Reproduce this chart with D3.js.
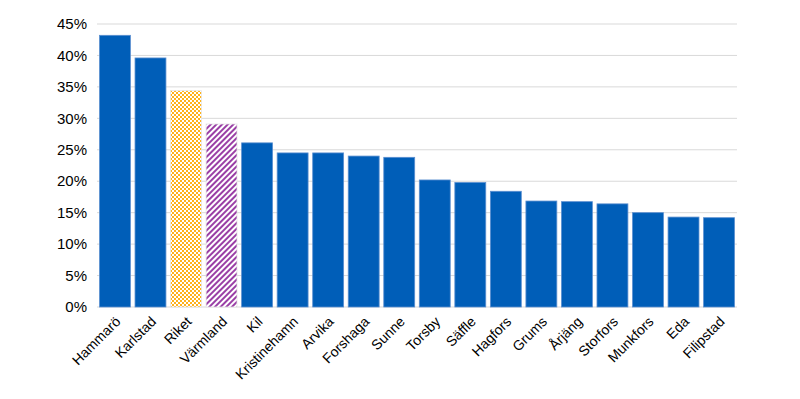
<!DOCTYPE html>
<html>
<head>
<meta charset="utf-8">
<script src="https://cdn.jsdelivr.net/npm/d3@7"></script>
<style>
  body { margin: 0; background: #fff; }
  text { font-family: "Liberation Sans", Arial, sans-serif; fill: #000; }
</style>
</head>
<body>
<svg id="chart"></svg>
<script>
const width = 800;
const height = 399;

// data
const kommuner = ["Hammarö", "Karlstad", "Riket", "Värmland", "Kil", "Kristinehamn", "Arvika", "Forshaga", "Sunne",
    "Torsby", "Säffle", "Hagfors", "Grums", "Årjäng", "Storfors", "Munkfors", "Eda", "Filipstad"];
const andel = [43.2, 39.6, 34.4, 29.1, 26.1, 24.5, 24.5, 24.0, 23.8,
    20.2, 19.8, 18.4, 16.85, 16.75, 16.4, 15.0, 14.3, 14.2];
const yTicks = [0, 5, 10, 15, 20, 25, 30, 35, 40, 45];

const margin = { top: 24, right: 63, bottom: 92, left: 97 };

const svg = d3.select("#chart").attr("width", width).attr("height", height);

// patterns for Riket and Värmland
const defs = svg.append("defs");
const checker = defs.append("pattern")
    .attr("id", "checker")
    .attr("width", 4).attr("height", 4)
    .attr("patternUnits", "userSpaceOnUse");
checker.append("rect").attr("width", 4).attr("height", 4).attr("fill", "#fff");
checker.append("rect").attr("width", 2).attr("height", 2).attr("fill", "#ffb21a");
checker.append("rect").attr("x", 2).attr("y", 2).attr("width", 2).attr("height", 2).attr("fill", "#ffb21a");

const stripes = defs.append("pattern")
    .attr("id", "stripes")
    .attr("width", 4).attr("height", 4)
    .attr("patternUnits", "userSpaceOnUse")
    .attr("patternTransform", "rotate(45)");
stripes.append("rect").attr("width", 4).attr("height", 4).attr("fill", "#fff");
stripes.append("rect").attr("width", 2).attr("height", 4).attr("fill", "#9a3fa6");

const x = d3.scaleBand()
    .domain(kommuner)
    .range([margin.left, width - margin.right])
    .paddingInner(0.13)
    .paddingOuter(0.07);

const y = d3.scaleLinear()
    .domain([0, 45])
    .range([height - margin.bottom, margin.top]);

// gridlines
svg.append("g")
    .selectAll("line")
    .data(yTicks)
    .join("line")
    .attr("x1", margin.left)
    .attr("x2", width - margin.right)
    .attr("y1", d => y(d))
    .attr("y2", d => y(d))
    .attr("stroke", "#d9d9d9")
    .attr("stroke-width", 1);

// y axis labels
svg.append("g")
    .selectAll("text")
    .data(yTicks)
    .join("text")
    .attr("x", 87)
    .attr("y", d => y(d))
    .attr("dy", "0.35em")
    .attr("text-anchor", "end")
    .style("font-size", "15px")
    .text(d => d + "%");

function fillFor(name) {
    if (name === "Riket") return "url(#checker)";
    if (name === "Värmland") return "url(#stripes)";
    return "#005eb8";
}

function strokeFor(name) {
    if (name === "Riket" || name === "Värmland") return "#e6e6e6";
    return "#5b8fd0";
}

// bars
svg.append("g")
    .selectAll("rect")
    .data(kommuner)
    .join("rect")
    .attr("x", d => x(d))
    .attr("width", x.bandwidth())
    .attr("y", (d, i) => y(andel[i]))
    .attr("height", (d, i) => y(0) - y(andel[i]))
    .attr("fill", d => fillFor(d))
    .attr("stroke", d => strokeFor(d))
    .attr("stroke-width", 0.8);

// category labels
svg.append("g")
    .selectAll("text")
    .data(kommuner)
    .join("text")
    .attr("transform", d => `translate(${x(d) + x.bandwidth() / 2 + 3},${y(0) + 12}) rotate(-45)`)
    .attr("text-anchor", "end")
    .attr("dy", "0.35em")
    .style("font-size", "14px")
    .text(d => d);
</script>
</body>
</html>
